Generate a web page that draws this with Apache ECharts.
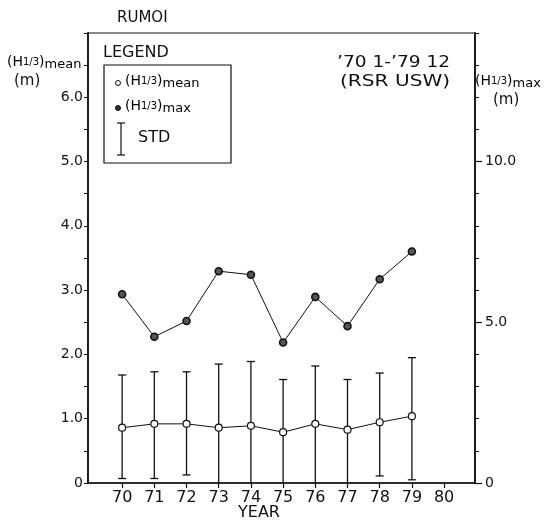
<!DOCTYPE html>
<html>
<head>
<meta charset="utf-8">
<script src="https://cdn.jsdelivr.net/npm/echarts@6/dist/echarts.min.js"></script>
<style>html,body{margin:0;padding:0;background:#fff;}#c{width:546px;height:524px;}</style>
</head>
<body>
<div id="c"></div>
<script>
const years = [70, 71, 72, 73, 74, 75, 76, 77, 78, 79];
const meanH = [0.86, 0.92, 0.92, 0.86, 0.89, 0.79, 0.92, 0.83, 0.945, 1.04];
const maxH = [5.87, 4.55, 5.04, 6.59, 6.48, 4.37, 5.79, 4.88, 6.34, 7.20];
const stdTop = [1.68, 1.73, 1.73, 1.85, 1.89, 1.61, 1.82, 1.61, 1.71, 1.95];
const stdBottom = [0.07, 0.07, 0.125, 0, 0, 0, 0, 0, 0.11, 0.05];
const xTickYears = [70, 71, 72, 73, 74, 75, 76, 77, 78, 79, 80];
const leftLabelVals = [0, 1, 2, 3, 4, 5, 6];
const rightLabelVals = [0, 5, 10];

const FONT = 'DejaVu Sans';
const chart = echarts.init(document.getElementById('c'));

const meanData = years.map((y, i) => [y, meanH[i]]);
const maxData = years.map((y, i) => [y, maxH[i]]);
const errData = years.map((y, i) => [y, stdBottom[i], stdTop[i]]);

const hRich = {
  n: { fontSize: 14, fontFamily: FONT, color: '#111', lineHeight: 18, verticalAlign: 'middle' },
  f: { fontSize: 10, fontFamily: FONT, color: '#111', lineHeight: 18, verticalAlign: 'middle' },
  s: { fontSize: 13, fontFamily: FONT, color: '#111', lineHeight: 11, verticalAlign: 'bottom' }
};
function hText(sub) { return '{n|(H}{f|1/3}{n|)}{s|' + sub + '}'; }

chart.setOption({
  animation: false,
  backgroundColor: '#fff',
  textStyle: { fontFamily: FONT, color: '#111' },
  grid: { left: 88, right: 71, top: 33, bottom: 41, show: true, borderColor: '#111', borderWidth: 1, containLabel: false },
  xAxis: {
    type: 'value', min: 68.94, max: 80.96,
    axisLine: { lineStyle: { color: '#111', width: 1.5 } },
    axisTick: { show: true, customValues: xTickYears, length: 5, lineStyle: { color: '#111', width: 1.2 } },
    axisLabel: { customValues: xTickYears, fontSize: 16, color: '#111', fontFamily: FONT, margin: 7 },
    splitLine: { show: false }
  },
  yAxis: [
    {
      type: 'value', min: 0, max: 7, interval: 0.5, position: 'left',
      axisLine: { show: true, lineStyle: { color: '#111', width: 1.8 } },
      axisTick: { show: true, length: 4, lineStyle: { color: '#111', width: 1 } },
      axisLabel: {
        fontSize: 14, color: '#111', fontFamily: FONT, margin: 5,
        formatter: v => leftLabelVals.indexOf(v) >= 0 ? (v === 0 ? '0' : v.toFixed(1)) : ''
      },
      splitLine: { show: false }
    },
    {
      type: 'value', min: 0, max: 14, interval: 1, position: 'right',
      axisLine: { show: true, lineStyle: { color: '#111', width: 1.8 } },
      axisTick: { show: true, customValues: rightLabelVals, length: 7, lineStyle: { color: '#111', width: 1.2 } },
      axisLabel: {
        fontSize: 14, color: '#111', fontFamily: FONT, margin: 10,
        formatter: v => rightLabelVals.indexOf(v) >= 0 ? (v === 0 ? '0' : v.toFixed(1)) : ''
      },
      splitLine: { show: false }
    },
    {
      type: 'value', min: 0, max: 14, interval: 1, position: 'right',
      axisLine: { show: false },
      axisTick: { show: true, length: 4, lineStyle: { color: '#111', width: 1 } },
      axisLabel: { show: false },
      splitLine: { show: false }
    }
  ],
  series: [
    {
      type: 'custom', yAxisIndex: 0, z: 1,
      data: errData,
      renderItem: function (params, api) {
        const x = api.value(0), lo = api.value(1), hi = api.value(2);
        const pt = api.coord([x, hi]);
        const pb = api.coord([x, lo]);
        const w = 4;
        const st = { stroke: '#111', lineWidth: 1.3 };
        const ch = [
          { type: 'line', shape: { x1: pt[0], y1: pt[1], x2: pb[0], y2: pb[1] }, style: st },
          { type: 'line', shape: { x1: pt[0] - w, y1: pt[1], x2: pt[0] + w, y2: pt[1] }, style: st }
        ];
        if (lo > 0) ch.push({ type: 'line', shape: { x1: pb[0] - w, y1: pb[1], x2: pb[0] + w, y2: pb[1] }, style: st });
        return { type: 'group', children: ch };
      }
    },
    {
      type: 'line', yAxisIndex: 0, z: 3, data: meanData,
      symbol: 'circle', symbolSize: 7,
      lineStyle: { color: '#111', width: 1 },
      itemStyle: { color: '#fff', borderColor: '#111', borderWidth: 1.2 }
    },
    {
      type: 'line', yAxisIndex: 1, z: 3, data: maxData,
      symbol: 'circle', symbolSize: 7,
      lineStyle: { color: '#111', width: 1 },
      itemStyle: { color: '#555', borderColor: '#111', borderWidth: 1.6 }
    }
  ],
  graphic: [
    { type: 'text', left: 117, top: 11, style: { text: 'RUMOI', font: '15px ' + FONT, fill: '#111' } },
    { type: 'text', left: 7, top: 55, style: { text: hText('mean'), rich: hRich } },
    { type: 'text', left: 14, top: 74, style: { text: '(m)', font: '15px ' + FONT, fill: '#111' } },
    { type: 'text', left: 475, top: 74, style: { text: hText('max'), rich: hRich } },
    { type: 'text', left: 493, top: 93, style: { text: '(m)', font: '15px ' + FONT, fill: '#111' } },
    { type: 'text', left: 103, top: 45, style: { text: 'LEGEND', font: '16px ' + FONT, fill: '#111' } },
    { type: 'rect', shape: { x: 104, y: 65, width: 127, height: 98 }, style: { fill: 'none', stroke: '#111', lineWidth: 1.2 } },
    { type: 'circle', shape: { cx: 118, cy: 83, r: 2.5 }, style: { fill: '#fff', stroke: '#111', lineWidth: 1 } },
    { type: 'text', left: 125, top: 74, style: { text: hText('mean'), rich: hRich } },
    { type: 'circle', shape: { cx: 118, cy: 108, r: 2.5 }, style: { fill: '#333', stroke: '#111', lineWidth: 1 } },
    { type: 'text', left: 125, top: 99, style: { text: hText('max'), rich: hRich } },
    { type: 'line', shape: { x1: 121, y1: 123, x2: 121, y2: 155 }, style: { stroke: '#111', lineWidth: 1.2 } },
    { type: 'line', shape: { x1: 117, y1: 123, x2: 125, y2: 123 }, style: { stroke: '#111', lineWidth: 1.2 } },
    { type: 'line', shape: { x1: 117, y1: 155, x2: 125, y2: 155 }, style: { stroke: '#111', lineWidth: 1.2 } },
    { type: 'text', left: 138, top: 130, style: { text: 'STD', font: '16px ' + FONT, fill: '#111' } },
    { type: 'text', x: 337, y: 56, scaleX: 1.24, style: { text: '\u201970 1-\u201979 12', font: '15px ' + FONT, fill: '#111' } },
    { type: 'text', x: 340, y: 75, scaleX: 1.34, style: { text: '(RSR USW)', font: '15px ' + FONT, fill: '#111' } },
    { type: 'text', left: 238, top: 505, style: { text: 'YEAR', font: '16px ' + FONT, fill: '#111' } }
  ]
});
</script>
</body>
</html>
